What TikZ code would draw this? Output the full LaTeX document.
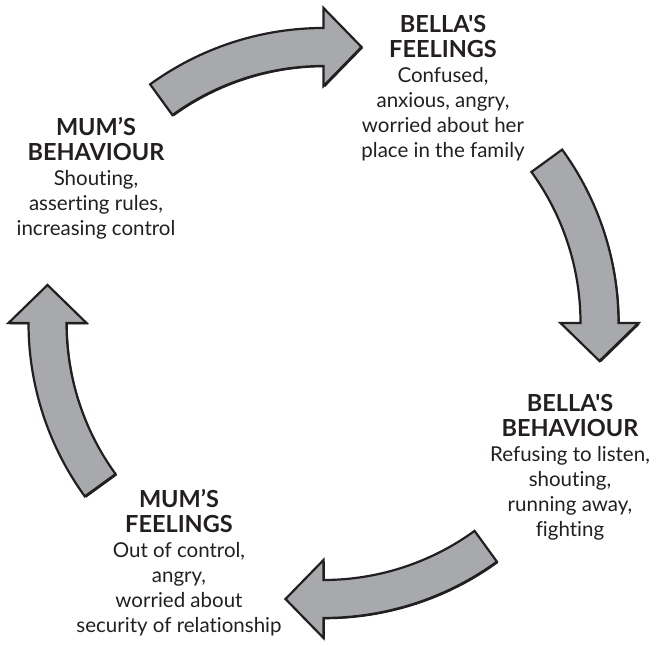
\documentclass[tikz,border=0pt]{standalone}
\usepackage{fontspec}
\setmainfont{Lato}[Ligatures={TeXOff,NoCommon}]
\definecolor{arrowgrey}{HTML}{A7A9AC}
\definecolor{ink}{HTML}{231F20}
\tikzset{
  cyclearrow/.style={fill=arrowgrey, draw=ink, line width=2.2pt, line join=miter},
  arrowshadow/.style={fill=ink},
  blocktext/.style={align=center, text=ink, inner sep=0pt, anchor=north,
    font=\fontsize{20.5}{25}\selectfont},
}
% one curved arrow of the cycle, head at 90 degrees, tail 36 degrees behind
\newcommand{\arrowoutline}{(126:295) arc[start angle=126, end angle=90, radius=295]
  -- (90:315) -- (38,276) -- (90:237) -- (90:257)
  arc[start angle=90, end angle=126, radius=257] -- cycle}
\newcommand{\cyclearrowat}[1]{%
  \begin{scope}[shift={(324.8,322.7)}, rotate=#1]
    \path[arrowshadow] \arrowoutline;
  \end{scope}
  \begin{scope}[shift={(323.5,324)}, rotate=#1]
    \path[cyclearrow] \arrowoutline;
  \end{scope}}
\newcommand{\hd}[1]{{\fontsize{23.5}{25}\selectfont\bfseries #1}}
\begin{document}
\begin{tikzpicture}[x=1pt, y=1pt]
  \useasboundingbox (0,0) rectangle (656,647);

  \cyclearrowat{0}
  \cyclearrowat{-90}
  \cyclearrowat{-180}
  \cyclearrowat{90}

  \node[blocktext] (mumbeh) at (96,529.5)
    {\hd{MUM’S}\\ \hd{BEHAVIOUR}\\ Shouting,\\ asserting rules,\\ increasing control};
  \node[blocktext] (bellafeel) at (443,631.5)
    {\hd{BELLA'S}\\ \hd{FEELINGS}\\ Confused,\\ anxious, angry,\\ worried about her\\ place in the family};
  \node[blocktext] (bellabeh) at (570,252.5)
    {\hd{BELLA'S}\\ \hd{BEHAVIOUR}\\ Refusing to listen,\\ shouting,\\ running away,\\ fighting};
  \node[blocktext] (mumfeel) at (179,157.5)
    {\hd{MUM’S}\\ \hd{FEELINGS}\\ Out of control,\\ angry,\\ worried about\\ security of relationship};
\end{tikzpicture}
\end{document}
